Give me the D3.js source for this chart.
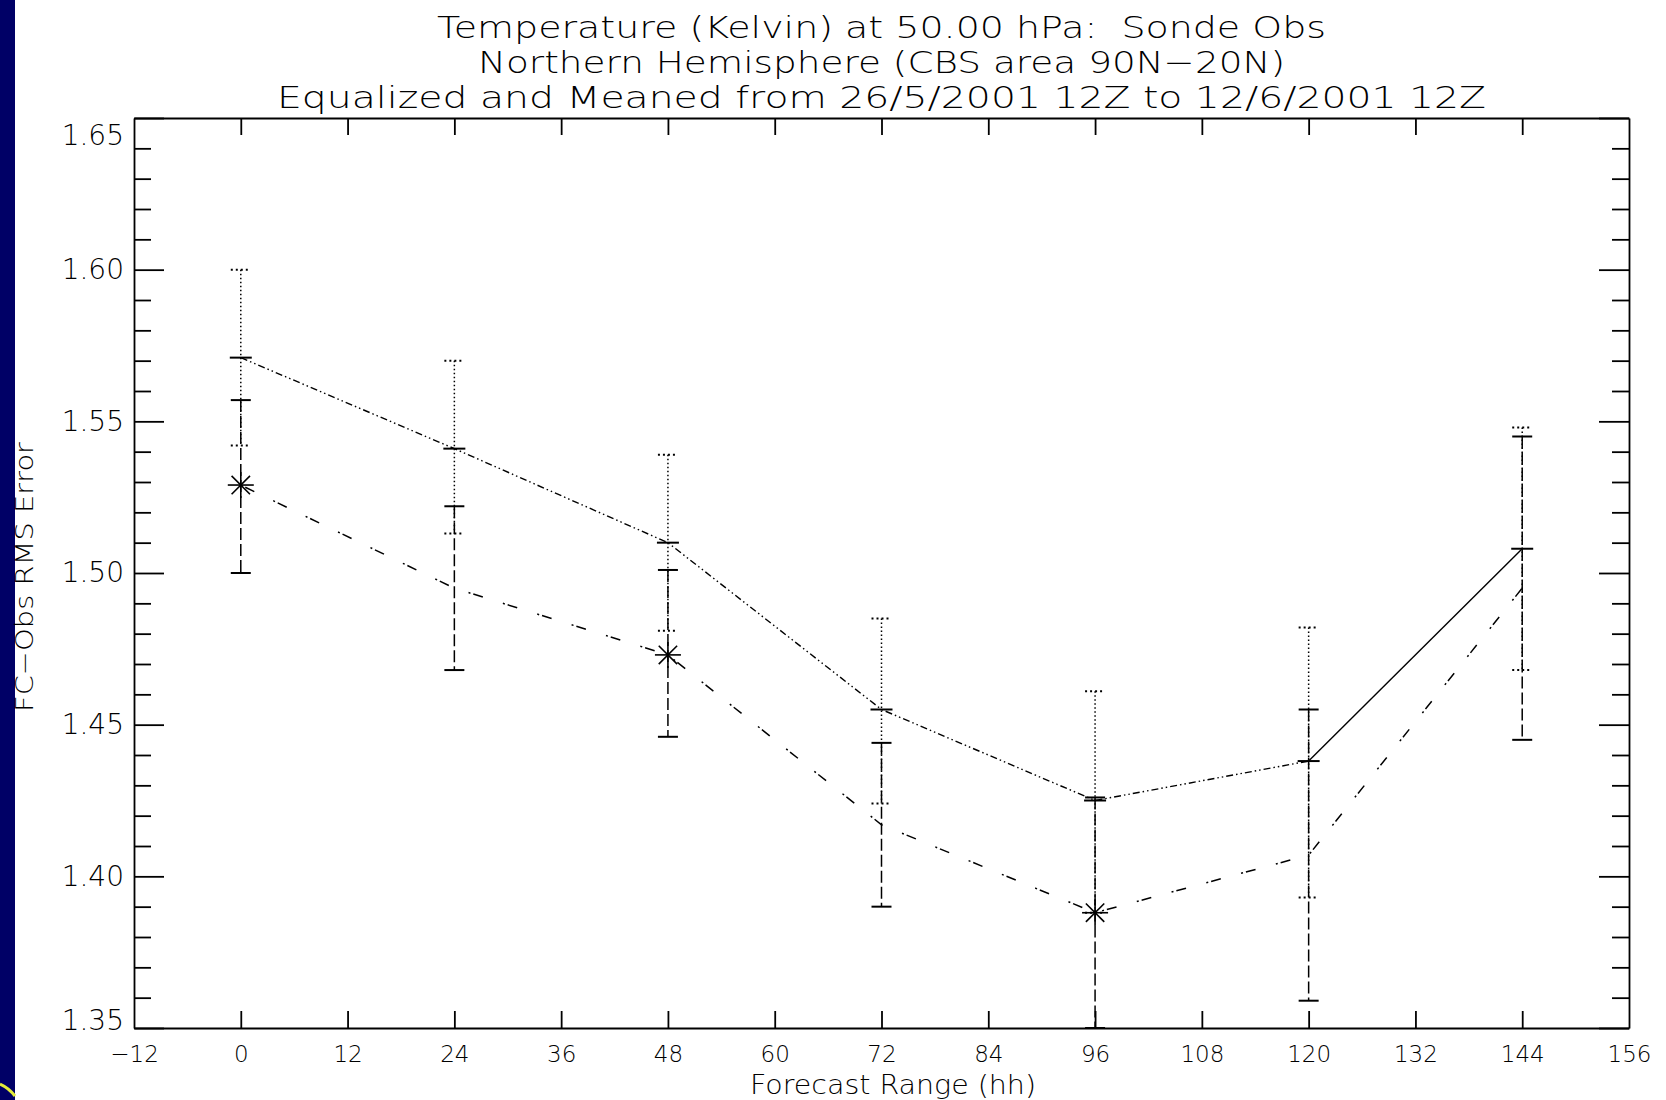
<!DOCTYPE html>
<html lang="en">
  <head>
    <meta charset="UTF-8">
    <title>FC-Obs RMS Error</title>
    <style>
      body { margin:0; background:#fff; }
      svg { display:block; }
      text { font-family:'DejaVu Sans', 'Liberation Sans', sans-serif; font-weight:200; fill:#000; }
      .title { white-space:pre; }
      .axis path, .axis line { stroke:#000; stroke-width:1.8; fill:none; }
      .axis text { font-weight:200; }
    </style>
  </head>
  <body>
    <svg id="chart" width="1666" height="1100"></svg>
    <script src="https://d3js.org/d3.v7.min.js"></script>
    <script>
    // forecast range (hh)
    var hours = [0, 24, 48, 72, 96, 120, 144];

    // upper curve (dash dot dot), dotted error bars
    var meanA = [1.571, 1.541, 1.510, 1.455, 1.425, 1.438, 1.508];
    var lowA  = [1.542, 1.513, 1.481, 1.424, 1.388, 1.393, 1.468];
    var highA = [1.600, 1.570, 1.539, 1.485, 1.461, 1.482, 1.548];

    // lower curve (long dashes), dashed error bars
    var meanB = [1.529, 1.495, 1.473, 1.417, 1.388, 1.407, 1.495];
    var lowB  = [1.500, 1.468, 1.446, 1.390, 1.350, 1.359, 1.445];
    var highB = [1.557, 1.522, 1.501, 1.444, 1.426, 1.455, 1.545];
    var starHours = [0, 48, 96];

    var xTicks = [-12, 0, 12, 24, 36, 48, 60, 72, 84, 96, 108, 120, 132, 144, 156];
    var yTicks = [1.35, 1.40, 1.45, 1.50, 1.55, 1.60, 1.65];

    var titles = [
      'Temperature (Kelvin) at 50.00 hPa:  Sonde Obs',
      'Northern Hemisphere (CBS area 90N\u221220N)',
      'Equalized and Meaned from 26/5/2001 12Z to 12/6/2001 12Z'
    ];

    var L = 134, R = 1629, T = 118, B = 1028;
    var svg = d3.select('#chart');

    // bit of the slide background on the left
    svg.append('rect').attr('x', 0).attr('y', 0).attr('width', 15).attr('height', 1100).attr('fill', '#000066');
    svg.append('path').attr('d', 'M0,1084 Q9,1088 15,1096')
      .attr('fill', 'none').attr('stroke', '#e4ec3a').attr('stroke-width', 3);

    var x = d3.scaleLinear().domain([-12, 156]).range([L, R]);
    var y = d3.scaleLinear().domain([1.35, 1.65]).range([B, T]);
    var yMinor = d3.range(1.36, 1.65, 0.01).filter(v => Math.abs(Math.round(v * 20) - v * 20) > 0.01);

    // bottom axis with labels
    var gx = svg.append('g').attr('class', 'axis').attr('transform', 'translate(0,' + B + ')')
      .call(d3.axisBottom(x).tickValues(xTicks).tickSize(-17).tickSizeOuter(0)
        .tickFormat(d => d < 0 ? '\u2212' + Math.abs(d) : d));
    gx.selectAll('.tick line').filter(d => d == -12 || d == 156).remove();
    gx.selectAll('text').attr('y', 34).attr('dy', null).style('font-size', '23px').style('font-family', null);

    // top axis, ticks only
    var gt = svg.append('g').attr('class', 'axis').attr('transform', 'translate(0,' + T + ')')
      .call(d3.axisTop(x).tickValues(xTicks).tickSize(-17).tickSizeOuter(0).tickFormat(''));
    gt.selectAll('.tick line').filter(d => d == -12 || d == 156).remove();

    // left axis
    var gy = svg.append('g').attr('class', 'axis').attr('transform', 'translate(' + L + ',0)')
      .call(d3.axisLeft(y).tickValues(yTicks).tickSize(-30).tickSizeOuter(0).tickPadding(10)
        .tickFormat(d3.format('.2f')));
    gy.selectAll('text').style('font-size', '28px').style('font-family', null)
      .attr('y', function(d) {
        var p = y(d);
        return Math.max(T + 18, Math.min(B - 7, p)) - p;
      });
    svg.append('g').attr('class', 'axis').attr('transform', 'translate(' + L + ',0)')
      .call(d3.axisLeft(y).tickValues(yMinor).tickSize(-17).tickSizeOuter(0).tickFormat(''))
      .select('.domain').remove();

    // right axis
    svg.append('g').attr('class', 'axis').attr('transform', 'translate(' + R + ',0)')
      .call(d3.axisRight(y).tickValues(yTicks).tickSize(-30).tickSizeOuter(0).tickFormat(''));
    svg.append('g').attr('class', 'axis').attr('transform', 'translate(' + R + ',0)')
      .call(d3.axisRight(y).tickValues(yMinor).tickSize(-17).tickSizeOuter(0).tickFormat(''))
      .select('.domain').remove();

    // titles
    var titleW = [889, 807, 1209];
    var titleY = [38, 73, 108];
    svg.selectAll('.title').data(titles).enter().append('text')
      .attr('class', 'title')
      .attr('x', (L + R) / 2)
      .attr('y', (d, i) => titleY[i])
      .attr('text-anchor', 'middle')
      .attr('textLength', (d, i) => titleW[i])
      .attr('lengthAdjust', 'spacingAndGlyphs')
      .style('font-size', '31px')
      .text(d => d);

    svg.append('text')
      .attr('x', 893).attr('y', 1094)
      .attr('text-anchor', 'middle')
      .attr('textLength', 286).attr('lengthAdjust', 'spacingAndGlyphs')
      .style('font-size', '26px')
      .text('Forecast Range (hh)');

    svg.append('text')
      .attr('transform', 'translate(33,577) rotate(-90)')
      .attr('text-anchor', 'middle')
      .attr('textLength', 270).attr('lengthAdjust', 'spacingAndGlyphs')
      .style('font-size', '25px')
      .text('FC\u2212Obs RMS Error');

    var ptsA = hours.map((h, i) => ({ h: h, v: meanA[i], lo: lowA[i], hi: highA[i] }));
    var ptsB = hours.map((h, i) => ({ h: h, v: meanB[i], lo: lowB[i], hi: highB[i] }));

    function errBars(pts, dash, capDash) {
      var g = svg.append('g').attr('stroke', '#000').attr('stroke-width', 1.5).attr('fill', 'none');
      g.selectAll('.bar').data(pts).enter().append('line')
        .attr('x1', d => x(d.h)).attr('x2', d => x(d.h))
        .attr('y1', d => y(d.hi)).attr('y2', d => y(d.lo))
        .attr('stroke-dasharray', dash);
      g.selectAll('.capHi').data(pts).enter().append('line')
        .attr('x1', d => x(d.h) - 10).attr('x2', d => x(d.h) + 10)
        .attr('y1', d => y(d.hi)).attr('y2', d => y(d.hi))
        .attr('stroke-width', 2).attr('stroke-dasharray', capDash);
      g.selectAll('.capLo').data(pts).enter().append('line')
        .attr('x1', d => x(d.h) - 10).attr('x2', d => x(d.h) + 10)
        .attr('y1', d => y(d.lo)).attr('y2', d => y(d.lo))
        .attr('stroke-width', 2).attr('stroke-dasharray', capDash);
    }
    errBars(ptsA, '1.5,2.5', '2,3');
    errBars(ptsB, '12,4', null);

    var line = d3.line().x(d => x(d.h)).y(d => y(d.v));

    svg.append('path').datum(ptsA.filter(d => d.h <= 120))
      .attr('d', line).attr('fill', 'none').attr('stroke', '#000').attr('stroke-width', 1.4)
      .attr('stroke-dasharray', '7,3,1.5,3,1.5,3');
    svg.append('path').datum(ptsA.filter(d => d.h >= 120))
      .attr('d', line).attr('fill', 'none').attr('stroke', '#000').attr('stroke-width', 1.4);

    svg.append('path').datum(ptsB)
      .attr('d', line).attr('fill', 'none').attr('stroke', '#000').attr('stroke-width', 1.5)
      .attr('stroke-dasharray', '2,3,10,21');

    // bar markers on the upper curve
    svg.selectAll('.markA').data(ptsA).enter().append('line')
      .attr('x1', d => x(d.h) - 11).attr('x2', d => x(d.h) + 11)
      .attr('y1', d => y(d.v)).attr('y2', d => y(d.v))
      .attr('stroke', '#000').attr('stroke-width', 2);

    // asterisks on the lower curve
    var stars = svg.selectAll('.star').data(ptsB.filter(d => starHours.indexOf(d.h) >= 0)).enter().append('g')
      .attr('transform', d => 'translate(' + x(d.h) + ',' + y(d.v) + ')');
    [0, 45, 90, 135].forEach(function(a) {
      stars.append('line')
        .attr('x1', -13 * Math.cos(a * Math.PI / 180)).attr('y1', -13 * Math.sin(a * Math.PI / 180))
        .attr('x2', 13 * Math.cos(a * Math.PI / 180)).attr('y2', 13 * Math.sin(a * Math.PI / 180))
        .attr('stroke', '#000').attr('stroke-width', 1.6);
    });
    </script>
  </body>
</html>
